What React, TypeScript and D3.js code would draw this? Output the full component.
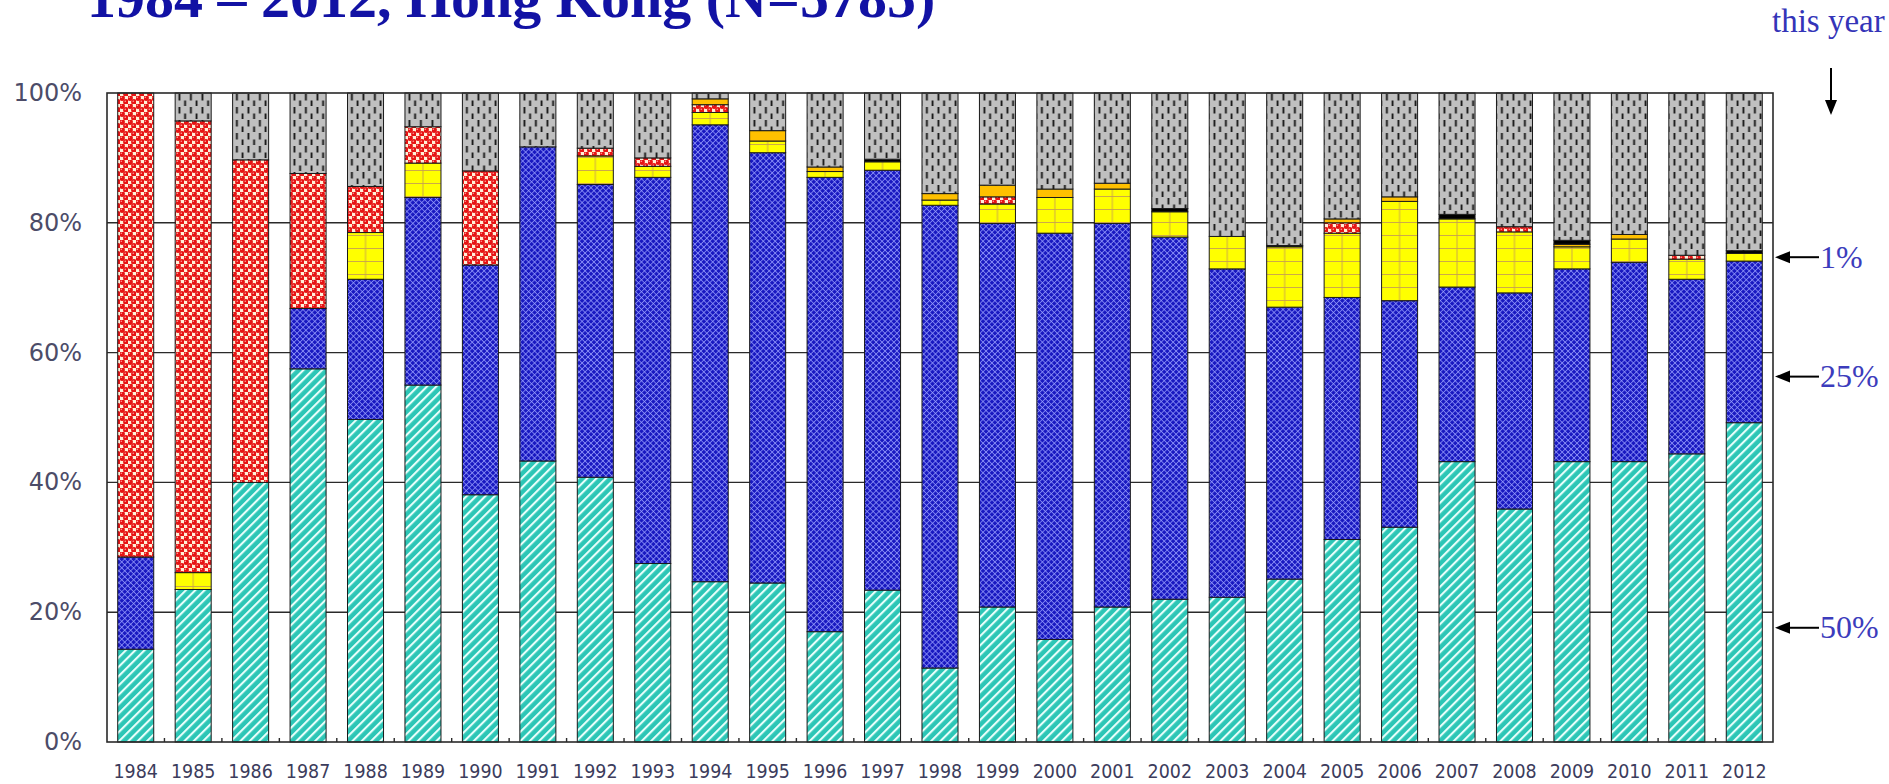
import React from 'react';
import * as d3 from 'd3';

const years = ['1984','1985','1986','1987','1988','1989','1990','1991','1992','1993','1994','1995','1996','1997','1998','1999','2000','2001','2002','2003','2004','2005','2006','2007','2008','2009','2010','2011','2012'];
const cyanVals = [14.3,23.5,40.0,57.5,49.7,55.0,38.1,43.3,40.8,27.5,24.7,24.5,17.0,23.4,11.4,20.8,15.8,20.8,22.0,22.3,25.1,31.2,33.1,43.2,35.9,43.2,43.2,44.4,49.2];
const blueVals = [14.2,0,0,9.3,21.6,28.9,35.4,48.4,45.1,59.5,70.4,66.3,70.0,64.7,71.3,59.1,62.6,59.1,55.8,50.6,41.9,37.3,34.9,26.9,33.3,29.7,30.7,26.9,24.9];
const yellowVals = [0,2.6,0,0,7.2,5.3,0,0,4.4,1.7,1.9,1.8,0.9,1.3,0.8,3.0,5.5,5.3,3.9,5.0,9.3,9.9,15.3,10.5,9.4,3.4,3.6,3.1,1.2];
const redVals = [71.5,69.6,49.7,20.8,7.1,5.6,14.5,0,1.2,1.3,1.2,0,0,0,0,1.1,0,0,0,0,0,1.6,0,0,0.8,0,0,0.6,0];
const orangeVals = [0,0,0,0,0,0,0,0,0,0,0.9,1.6,0.7,0,1.0,1.8,1.3,0.9,0,0,0,0.6,0.7,0,0,0.4,0.7,0,0];
const blackVals = [0,0,0,0,0,0,0,0,0,0,0,0,0,0.4,0,0,0,0,0.5,0,0.2,0,0,0.7,0,0.6,0,0,0.4];
const grayVals = [0,4.3,10.3,12.4,14.4,5.2,12.0,8.3,8.5,10.0,0.9,5.8,11.4,10.2,15.5,14.2,14.8,13.9,17.8,22.1,23.5,19.4,16.0,18.7,20.6,22.7,21.8,25.0,24.3];

const seriesKeys = ['cyan','blue','yellow','red','orange','black','gray'];
const seriesFills: Record<string,string> = {
  cyan: 'url(#patCyan)', blue: 'url(#patBlue)', yellow: 'url(#patYellow)', red: 'url(#patRed)',
  orange: '#ffc000', black: '#000000', gray: 'url(#patGray)'
};
const yTicks = [0,20,40,60,80,100];
const titleText = '1984 \u2013 2012, Hong Kong (N=5785)';
const markers = [{label:'1%', value:74.7},{label:'25%', value:56.3},{label:'50%', value:17.6}];

const W = 1889, H = 784;
const L = 107, R = 1773, T = 93, B = 742;

export default function App() {
  const table = years.map((yr,i)=>({year:yr, cyan:cyanVals[i], blue:blueVals[i], yellow:yellowVals[i], red:redVals[i], orange:orangeVals[i], black:blackVals[i], gray:grayVals[i]}));
  const stack = d3.stack<any>().keys(seriesKeys)(table);
  const x = d3.scaleBand<string>().domain(years).range([L,R]).paddingInner(0.373).paddingOuter(0.1865);
  const y = d3.scaleLinear().domain([0,100]).range([B,T]);
  const step = x.step();
  const bw = x.bandwidth();
  const firstCenter = (x(years[0]) as number) + bw/2;

  return (
    <svg width={W} height={H} style={{position:'absolute', left:0, top:0, background:'#fff'}}>
      <defs>
        <pattern id="patCyan" patternUnits="userSpaceOnUse" width={6.6} height={6.6} patternTransform="rotate(45)">
          <rect width={6.6} height={6.6} fill="#2cc6b6"/>
          <rect x={0} y={0} width={2.1} height={6.6} fill="#e8fffb"/>
        </pattern>
        <pattern id="patBlue" patternUnits="userSpaceOnUse" width={4.2} height={4.2} patternTransform="rotate(45)">
          <rect width={4.2} height={4.2} fill="#1818c0"/>
          <rect x={0} y={0} width={4.2} height={0.9} fill="#9aa0ff" opacity={0.8}/>
          <rect x={0} y={0} width={0.9} height={4.2} fill="#9aa0ff" opacity={0.8}/>
        </pattern>
        <pattern id="patYellow" patternUnits="userSpaceOnUse" x={firstCenter} y={B} width={step} height={13}>
          <rect width={step} height={13} fill="#ffff00"/>
          <rect x={0} y={0} width={step} height={0.9} fill="#c8a050"/>
          <rect x={-0.45} y={0} width={0.9} height={13} fill="#c8a050"/>
          <rect x={step-0.45} y={0} width={0.9} height={13} fill="#c8a050"/>
        </pattern>
        <pattern id="patRed" patternUnits="userSpaceOnUse" width={8} height={8}>
          <rect width={8} height={8} fill="#fff0d8"/>
          <circle cx={2} cy={2} r={2.9} fill="#e61414"/>
          <circle cx={6} cy={6} r={2.9} fill="#e61414"/>
          <circle cx={1.3} cy={1.3} r={0.8} fill="#ff9a9a"/>
          <circle cx={5.3} cy={5.3} r={0.8} fill="#ff9a9a"/>
        </pattern>
        <pattern id="patGray" patternUnits="userSpaceOnUse" x={L} y={T} width={11.5} height={13}>
          <rect width={11.5} height={13} fill="#c0c0c0"/>
          <rect x={2.5} y={1} width={1.8} height={6.5} fill="#111"/>
          <rect x={8.2} y={7.5} width={1.8} height={5.5} fill="#111"/>
        </pattern>
      </defs>

      <text x={87} y={17} fontFamily="Liberation Serif" fontWeight="bold" fontSize={58} fill="#1212a4">{titleText}</text>

      {yTicks.filter(t=>t>0 && t<100).map(t=>(
        <line key={'g'+t} x1={L} x2={R} y1={y(t)} y2={y(t)} stroke="#2a2a2a" strokeWidth={1.4}/>
      ))}

      {stack.map(s=>(
        <g key={s.key}>
          {s.map((d,i)=>{
            const h = y(d[0]) - y(d[1]);
            if (h <= 0.01) return null;
            return <rect key={i} x={x(years[i])} y={y(d[1])} width={bw} height={h} fill={seriesFills[s.key]} stroke="#1a1a1a" strokeWidth={1}/>;
          })}
        </g>
      ))}

      <rect x={L} y={T} width={R-L} height={B-T} fill="none" stroke="#2a2a2a" strokeWidth={1.6}/>
      {years.map((yr,i)=> i>0 ? (
        <line key={'t'+yr} x1={(x(yr) as number) - (step-bw)/2} x2={(x(yr) as number) - (step-bw)/2} y1={B} y2={B-4} stroke="#2a2a2a" strokeWidth={1.4}/>
      ) : null)}

      {yTicks.map(t=>(
        <text key={'yl'+t} x={82} y={y(t)} textAnchor="end" dominantBaseline="central" fontFamily="DejaVu Sans" fontSize={24} fill="#4c4c68">{t + '%'}</text>
      ))}

      {years.map(yr=>(
        <text key={'xl'+yr} transform={`translate(${(x(yr) as number)+bw/2},${778}) scale(1,1.15)`} textAnchor="middle" fontFamily="DejaVu Sans" fontSize={17.5} fill="#3c3c5c">{yr}</text>
      ))}

      <text x={1772} y={32} fontFamily="Liberation Serif" fontSize={33} fill="#3434b8">this year</text>
      <line x1={1831} x2={1831} y1={68} y2={102} stroke="#000" strokeWidth={2}/>
      <path d={`M${1825},${100} L${1837},${100} L${1831},${115} Z`} fill="#000"/>

      {markers.map(m=>(
        <g key={m.label}>
          <line x1={1788} x2={1819} y1={y(m.value)} y2={y(m.value)} stroke="#000" strokeWidth={2}/>
          <path d={`M${1775},${y(m.value)} L${1790},${y(m.value)-6} L${1790},${y(m.value)+6} Z`} fill="#000"/>
          <text x={1820} y={y(m.value) + 10.5} fontFamily="Liberation Serif" fontSize={32} fill="#3c3cbc">{m.label}</text>
        </g>
      ))}
    </svg>
  );
}
